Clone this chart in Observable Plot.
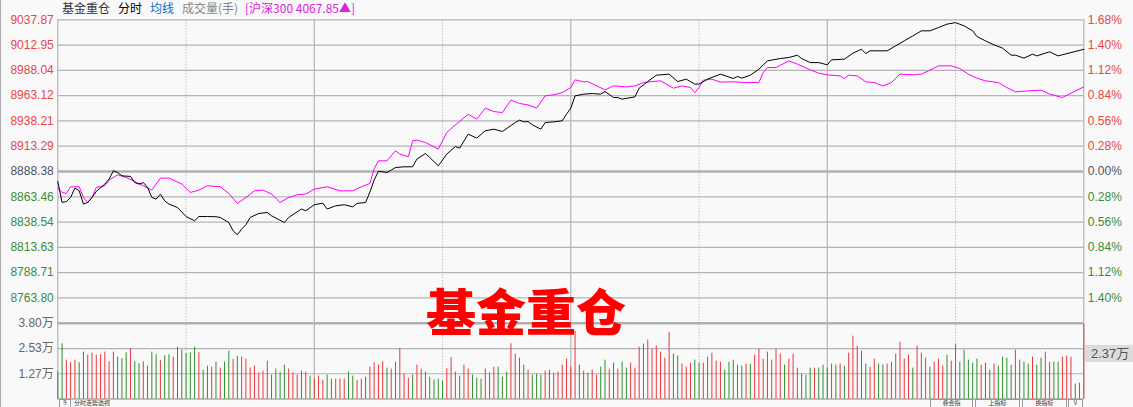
<!DOCTYPE html>
<html><head><meta charset="utf-8">
<script src="https://cdn.jsdelivr.net/npm/d3@7"></script>
<script src="https://cdn.jsdelivr.net/npm/@observablehq/plot@0.6"></script>
<style>
html,body{margin:0;padding:0;background:#f9f9f9;}
#root{position:relative;width:1133px;height:407px;overflow:hidden;background:#f9f9f9;font-family:"Liberation Sans","Noto Sans CJK SC",sans-serif;}
#root .abs{position:absolute;white-space:nowrap;}
.hdr{top:0;font-size:12px;line-height:16px;font-family:"Noto Sans CJK SC","Liberation Sans",sans-serif;}
.btn{top:399px;height:8px;border:1px solid #999;border-bottom:none;box-sizing:border-box;font-size:6px;line-height:6px;color:#333;text-align:center;font-family:"Noto Sans CJK SC",sans-serif;}
#p1,#p2{position:absolute;left:0;}
#p1{top:0;} #p2{top:315px;}
svg{overflow:visible}
</style></head>
<body>
<div id="root">
  <div class="abs" style="left:0;top:0;width:1px;height:407px;background:#aaa"></div>
  <div id="p1"></div>
  <div id="p2"></div>
  <span class="abs hdr" style="left:62px;color:#333">基金重仓</span>
  <span class="abs hdr" style="left:118px;color:#000">分时</span>
  <span class="abs hdr" style="left:150px;color:#0a6fc2">均线</span>
  <span class="abs hdr" style="left:182px;color:#888">成交量(手)</span>
  <span class="abs hdr" style="left:245px;color:#e020e0">[沪深300 4067.85▲]</span>
  <div class="abs" style="left:1085px;top:345px;width:48px;height:17px;background:#dcdcdc;color:#555;font-size:13px;line-height:17px;padding-left:6px;box-sizing:border-box">2.37万</div>
  <div class="abs" style="left:426px;top:284px;font-family:'Noto Sans CJK SC',sans-serif;font-weight:900;font-size:50px;line-height:50px;color:#ff0000">基金重仓</div>
  <div class="abs btn" style="left:59px;width:12px;">9</div>
  <span class="abs" style="left:74px;top:400px;font-size:6px;line-height:6px;color:#333;font-family:'Noto Sans CJK SC'">分时走势透视</span>
  <div class="abs btn" style="left:930px;width:43px;">叠合指</div>
  <div class="abs btn" style="left:975px;width:45px;">上指标</div>
  <div class="abs btn" style="left:1022px;width:45px;">换指标</div>
  <div class="abs btn" style="left:1068px;width:15px;">V</div>
</div>
<script>
// ---------------- DATA ----------------
const priceTicks = [9037.87, 9012.95, 8988.04, 8963.12, 8938.21, 8913.29, 8888.38, 8863.46, 8838.54, 8813.63, 8788.71, 8763.80];
const pctLabels = ["1.68%","1.40%","1.12%","0.84%","0.56%","0.28%","0.00%","0.28%","0.56%","0.84%","1.12%","1.40%"];
const prevClose = 8888.38;
const volTicks = [3.80, 2.53, 1.27];
const volLabels = ["3.80万","2.53万","1.27万"];
const solidMinutes = [0, 60, 120, 180, 240];
const dottedMinutes = [30, 90, 150, 210];

// fund index (minute, points)
const fundLine = [[0,8878.5],[1,8857.9],[2,8858.8],[3,8862.8],[4,8872.0],[5,8869.4],[6,8856.3],[7,8857.9],[8,8862.8],[9,8868.7],[11,8876.0],[12,8880.9],[13,8889.1],[14,8887.4],[15,8884.1],[17,8883.5],[18,8877.5],[19,8876.0],[20,8877.5],[21,8872.6],[22,8862.8],[23,8861.2],[24,8866.1],[25,8859.5],[26,8856.3],[28,8852.9],[30,8844.0],[32,8839.8],[33,8844.0],[35,8844.0],[37,8843.8],[38,8843.1],[40,8838.1],[41,8830.0],[42,8826.0],[43,8831.6],[44,8835.9],[45,8843.1],[47,8847.0],[49,8848.0],[50,8844.7],[53,8838.1],[54,8843.1],[57,8851.4],[58,8849.7],[60,8855.6],[62,8857.2],[63,8851.4],[65,8854.6],[67,8855.6],[69,8853.6],[70,8856.9],[72,8857.9],[73,8868.0],[74,8880.0],[75,8888.6],[77,8887.4],[78,8889.8],[79,8892.3],[81,8893.0],[83,8893.0],[84,8900.6],[86,8906.1],[87,8902.2],[89,8894.0],[91,8905.5],[93,8913.0],[94,8911.4],[96,8925.2],[98,8921.3],[100,8928.5],[102,8930.1],[104,8927.8],[107,8936.6],[108,8939.0],[109,8937.3],[110,8937.6],[111,8934.4],[113,8930.1],[114,8936.6],[116,8937.3],[118,8938.3],[119,8944.9],[120,8950.8],[121,8962.9],[123,8964.6],[125,8965.2],[127,8964.6],[128,8967.2],[130,8961.3],[131,8961.3],[132,8959.7],[135,8961.9],[136,8970.5],[138,8977.0],[140,8983.3],[143,8984.3],[145,8977.0],[147,8979.4],[149,8974.5],[150,8974.5],[152,8979.4],[155,8984.3],[158,8980.0],[159,8982.0],[160,8980.4],[162,8983.3],[164,8989.2],[166,8997.4],[169,8999.7],[171,9000.7],[173,9003.0],[174,8999.7],[176,8995.7],[178,8995.7],[180,8993.5],[181,8998.4],[184,8999.1],[186,9005.0],[188,9008.9],[189,9004.6],[190,9007.3],[194,9007.3],[196,9012.2],[198,9017.1],[200,9022.0],[202,9027.0],[204,9027.0],[206,9030.2],[208,9033.6],[210,9035.1],[212,9031.9],[214,9027.0],[215,9021.4],[217,9017.1],[219,9013.2],[221,9009.9],[223,9003.0],[224,9003.0],[226,9000.1],[228,9004.0],[229,9002.3],[232,9006.3],[234,9002.3],[237,9005.6],[240,9008.8]];

// CSI 300 (minute, % change)
const hs300Line = [[0,-0.184],[1,-0.232],[2,-0.243],[3,-0.169],[5,-0.169],[6,-0.288],[7,-0.343],[8,-0.288],[9,-0.177],[11,-0.158],[12,-0.095],[14,-0.037],[16,-0.066],[18,-0.111],[20,-0.158],[22,-0.206],[24,-0.073],[26,-0.073],[29,-0.139],[31,-0.232],[33,-0.206],[35,-0.158],[38,-0.169],[40,-0.243],[42,-0.354],[44,-0.288],[46,-0.214],[48,-0.206],[50,-0.250],[52,-0.343],[54,-0.288],[56,-0.258],[58,-0.250],[60,-0.195],[63,-0.169],[66,-0.214],[69,-0.214],[71,-0.169],[73,-0.133],[74,0.030],[75,0.118],[77,0.118],[79,0.229],[80,0.193],[82,0.163],[83,0.340],[84,0.348],[86,0.321],[89,0.248],[91,0.432],[93,0.517],[94,0.553],[96,0.635],[98,0.580],[100,0.702],[102,0.664],[104,0.653],[106,0.790],[108,0.753],[110,0.738],[112,0.702],[114,0.838],[116,0.849],[118,0.874],[120,0.930],[121,1.015],[123,0.993],[124,0.996],[128,0.904],[130,0.948],[133,0.937],[135,0.948],[137,0.985],[139,0.996],[141,1.004],[144,0.923],[146,0.948],[148,0.930],[149,0.874],[150,0.930],[151,1.012],[153,1.023],[155,0.990],[158,0.993],[161,0.985],[164,0.985],[165,1.096],[166,1.151],[168,1.151],[171,1.225],[173,1.189],[176,1.126],[178,1.089],[180,1.070],[183,1.059],[184,1.029],[185,1.067],[187,1.059],[189,0.993],[191,0.985],[193,0.948],[195,0.985],[197,1.078],[200,1.070],[202,1.078],[204,1.122],[206,1.170],[209,1.170],[211,1.140],[213,1.078],[215,1.034],[217,1.004],[220,0.985],[222,0.930],[224,0.882],[227,0.893],[230,0.901],[232,0.857],[235,0.819],[237,0.868],[240,0.937]];

// volume per minute (万手), minute 0..240
const volumes = [
1.37,2.77,1.95,1.82,1.95,1.82,2.35,2.2,2.3,2.2,
2.22,2.35,1.87,2.35,2.1,2.02,2.32,2.53,1.87,1.77,
1.87,1.65,2.35,2.22,1.93,2.17,2.22,2.1,2.6,2.45,
2.28,2.32,2.6,2.32,1.45,1.65,1.6,1.85,1.55,1.85,
2.4,1.98,2.15,2.1,2.0,1.55,1.65,1.32,1.4,1.9,
1.2,1.5,1.35,1.7,1.5,1.32,1.2,1.4,1.35,1.15,
1.0,1.15,0.95,1.2,1.0,1.0,1.0,1.0,1.35,1.15,
0.92,1.0,1.1,1.6,1.82,1.7,1.87,1.55,1.5,1.85,
2.53,1.25,1.05,1.2,1.7,1.5,1.35,1.1,0.95,1.0,
0.9,1.53,2.08,1.35,1.15,1.7,1.5,1.2,1.05,1.0,
1.5,1.3,1.6,1.6,1.1,1.35,2.77,2.25,2.05,1.7,
1.45,1.2,1.25,1.2,1.4,1.45,1.3,1.35,1.7,2.0,
1.6,3.4,1.7,1.4,1.3,1.45,1.2,1.6,1.95,1.5,
1.8,1.5,1.85,1.55,1.8,1.55,2.6,2.75,2.95,2.5,
2.65,2.35,2.05,3.35,2.25,2.15,1.75,1.6,1.8,1.95,
1.8,1.8,2.1,2.3,1.9,1.85,1.45,1.85,1.95,1.7,
1.65,1.75,1.75,2.2,2.5,2.0,2.35,1.95,2.5,2.25,
1.7,2.0,2.25,1.55,1.25,1.2,1.55,1.55,1.55,1.7,
1.55,1.75,1.7,1.75,1.65,2.3,3.15,2.65,2.4,1.75,
1.6,2.0,1.75,1.7,1.75,1.85,2.25,2.85,2.0,2.2,
1.55,2.65,2.3,2.05,1.6,1.85,2.0,1.65,2.2,1.9,
2.75,1.85,2.45,1.95,1.8,2.0,1.7,1.8,1.45,1.75,
1.65,2.1,2.05,1.7,2.45,1.95,1.85,1.75,2.1,1.7,
2.05,2.35,1.85,1.85,1.85,2.1,2.15,2.1,0.75,0.8,
3.75];
// bar direction per minute (r = up / red, g = down / green), ten minutes per entry
const volDirs = [
 "ggrrrggrrr","rrrrgggrgg","rgggrggrgg","gggrggrgrg","grgrrrrrrr",
 "ggggrrrrrg","rrrggrrrgg","rrgrrrrgrr","rrrgrrrggg","grrrgrrggg",
 "rrrgggrrrg","rgggrgrrrr","rrgrgrrggr","grggrrrrrr","rrrrggrrrg",
 "grrrrrgggr","grgrrrrrrr","grrrgggrgg","grgrgrrrrg","rrggrrrrrr",
 "grrrgrrrgr","rgggggrggr","ggggrgggrg","grrggrrrgr","r"
];
</script>
<script>
const dirs = volDirs.join("").split("");

const W = 1133, mL = 57.3, mR = 49.7;
const RED = "#e8383d", GREEN = "#2f8f2f", GRID = "#b4b4b4";
const step = (priceTicks[0] - priceTicks[6]) / 6;
const pctToPrice = p => prevClose + p / 0.28 * step;
const lowPrice = prevClose - 6 * step;

const tickRows = priceTicks.map((v, i) => ({v, pct: pctLabels[i], i}));
const up = tickRows.filter(d => d.i < 6), mid = tickRows.filter(d => d.i === 6), dn = tickRows.filter(d => d.i > 6);

const p1 = Plot.plot({
  width: W, height: 330, marginLeft: mL, marginRight: mR, marginTop: 19.3, marginBottom: 7.3,
  style: {background: "transparent", fontFamily: "Liberation Sans, Arial, sans-serif", fontSize: "12px"},
  x: {domain: [0, 240], axis: null},
  y: {domain: [lowPrice, priceTicks[0]], axis: null},
  marks: [
    Plot.ruleY(priceTicks.filter((d, i) => i !== 6), {stroke: GRID, strokeWidth: 1.2}),
    Plot.ruleY([prevClose], {stroke: "#b0b0b0", strokeWidth: 2.6}),
    Plot.ruleX(dottedMinutes, {stroke: "#a8a8a8", strokeDasharray: "1,2"}),
    Plot.ruleX(solidMinutes, {stroke: GRID, strokeWidth: 1.2}),
    Plot.line(hs300Line, {x: d => d[0], y: d => pctToPrice(d[1]), stroke: "#ff00ff", strokeWidth: 1}),
    Plot.line(fundLine, {x: d => d[0], y: d => d[1], stroke: "#000", strokeWidth: 1}),
    Plot.text(up, {y: "v", text: d => d.v.toFixed(2), frameAnchor: "left", dx: -4, textAnchor: "end", fill: "#e84646"}),
    Plot.text(mid, {y: "v", text: d => d.v.toFixed(2), frameAnchor: "left", dx: -4, textAnchor: "end", fill: "#4a5566"}),
    Plot.text(dn, {y: "v", text: d => d.v.toFixed(2), frameAnchor: "left", dx: -4, textAnchor: "end", fill: "#3a8c3a"}),
    Plot.text(up, {y: "v", text: "pct", frameAnchor: "right", dx: 4, textAnchor: "start", fill: "#e84646"}),
    Plot.text(mid, {y: "v", text: "pct", frameAnchor: "right", dx: 4, textAnchor: "start", fill: "#4a5566"}),
    Plot.text(dn, {y: "v", text: "pct", frameAnchor: "right", dx: 4, textAnchor: "start", fill: "#3a8c3a"})
  ]
});
document.getElementById("p1").append(p1);

const bars = volumes.map((v, t) => ({t, v, d: dirs[t]}));
const volRows = volTicks.map((v, i) => ({v, label: volLabels[i]}));
const p2 = Plot.plot({
  width: W, height: 92, marginLeft: mL, marginRight: mR, marginTop: 7.7, marginBottom: 8.4,
  style: {background: "transparent", fontFamily: "Liberation Sans, Noto Sans CJK SC, sans-serif", fontSize: "12px"},
  x: {domain: [0, 240], axis: null},
  y: {domain: [0, 3.8], axis: null},
  marks: [
    Plot.ruleY([volTicks[1], volTicks[2]], {stroke: GRID, strokeWidth: 1.2}),
    Plot.ruleY([0], {stroke: "#aaa", strokeWidth: 1.5}),
    Plot.ruleX(dottedMinutes, {stroke: "#a8a8a8", strokeDasharray: "1,2"}),
    Plot.ruleX(solidMinutes, {stroke: GRID, strokeWidth: 1.2}),
    Plot.ruleX(bars.filter(d => d.d === "r"), {x: "t", y1: 0, y2: "v", stroke: RED, strokeWidth: 1}),
    Plot.ruleX(bars.filter(d => d.d === "g"), {x: "t", y1: 0, y2: "v", stroke: GREEN, strokeWidth: 1}),
    Plot.ruleY([volTicks[0]], {stroke: "#b0b0b0", strokeWidth: 2.6}),
    Plot.text(volRows, {y: "v", text: "label", frameAnchor: "left", dx: -4, textAnchor: "end", fill: "#666"})
  ]
});
document.getElementById("p2").append(p2);
</script>
</body></html>
